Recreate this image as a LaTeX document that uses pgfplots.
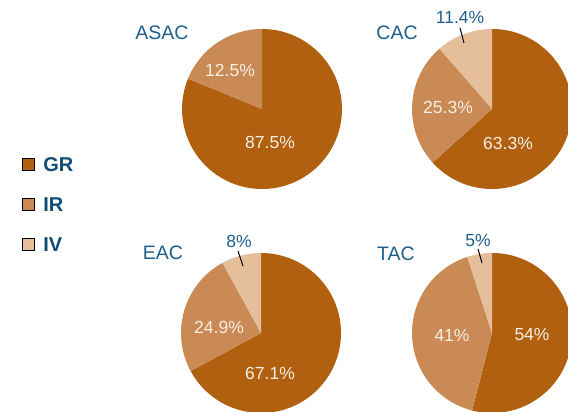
\documentclass[border=0pt]{standalone}
\usepackage{pgfplots}
\pgfplotsset{compat=1.18}
\usepackage{pgfplotstable}
\usepackage{fontspec}
\setmainfont{Liberation Sans}
\definecolor{pie0}{HTML}{B0600F}
\definecolor{pie1}{HTML}{C98A55}
\definecolor{pie2}{HTML}{E5BF9B}
\definecolor{ttl}{HTML}{1F5F8B}
\definecolor{leg}{HTML}{0F4C75}
\definecolor{inl}{HTML}{F8EFE4}

% slice sizes as drawn (percent of the full circle)
\pgfplotstableread{
cat value
GR 81.2
IR 18.8
}\asac
\pgfplotstableread{
cat value
GR 63.3
IR 25.3
IV 11.4
}\cac
\pgfplotstableread{
cat value
GR 67.1
IR 24.9
IV 8
}\eac
\pgfplotstableread{
cat value
GR 54
IR 41
IV 5
}\tac

\newcommand\drawpie[3]{%
  \pgfplotstablegetrowsof{#1}%
  \pgfmathtruncatemacro\lastrow{\pgfplotsretval-1}%
  \xdef\cumang{90}%
  \foreach \r in {0,...,\lastrow}{%
    \pgfplotstablegetelem{\r}{value}\of{#1}%
    \pgfmathsetmacro\endang{\cumang-3.6*\pgfplotsretval}%
    \fill[fill=pie\r] (axis cs:#2,#3) -- (axis cs:{#2+80*cos(\cumang)},{#3+80*sin(\cumang)}) arc[start angle=\cumang, end angle=\endang, radius=80bp] -- cycle;%
    \xdef\cumang{\endang}%
  }%
}

\begin{document}
\begin{tikzpicture}[x=1bp,y=1bp,
  ttl/.style={text=ttl, font=\fontsize{19.5bp}{19.5bp}\selectfont, inner sep=0pt},
  lab/.style={text=inl, font=\fontsize{17.5bp}{17.5bp}\selectfont, inner sep=0pt},
  olab/.style={text=ttl, font=\fontsize{17.5bp}{17.5bp}\selectfont, inner sep=0pt}]
\useasboundingbox (0,0) rectangle (568,411);
\begin{axis}[hide axis, scale only axis, width=568bp, height=411bp,
  xmin=0, xmax=568, ymin=0, ymax=411, at={(0,0)}, anchor=south west,
  legend cell align=left,
  legend image code/.code={\fill[#1] (0bp,-6bp) rectangle (12bp,6bp);},
  legend style={draw=none, fill=none, inner sep=0pt, outer sep=0pt,
    font=\bfseries\fontsize{20bp}{20bp}\selectfont, text=leg,
    at={(axis cs:22,253.5)}, anchor=north west,
    nodes={inner sep=0pt, text height=14.3bp, text depth=0pt},
    row sep=25.7bp, column sep=9bp},
]
\pgfplotsextra{\drawpie{\asac}{262}{302}}
\pgfplotsextra{\drawpie{\cac}{492}{302}}
\pgfplotsextra{\drawpie{\eac}{261}{78}}
\pgfplotsextra{\drawpie{\tac}{492}{78}}
\addlegendimage{fill=pie0}\addlegendentry{GR}
\addlegendimage{fill=pie1}\addlegendentry{IR}
\addlegendimage{fill=pie2}\addlegendentry{IV}
% titles
\node[ttl] at (axis cs:162,378) {ASAC};
\node[ttl] at (axis cs:397,378) {CAC};
\node[ttl] at (axis cs:163,158) {EAC};
\node[ttl] at (axis cs:396,157) {TAC};
% inner labels
\node[lab] at (axis cs:230,341) {12.5\%};
\node[lab] at (axis cs:270,269) {87.5\%};
\node[lab] at (axis cs:448,304) {25.3\%};
\node[lab] at (axis cs:508,268) {63.3\%};
\node[lab] at (axis cs:219,84) {24.9\%};
\node[lab] at (axis cs:270,38) {67.1\%};
\node[lab] at (axis cs:452,76) {41\%};
\node[lab] at (axis cs:532,76) {54\%};
% outer labels
\node[olab] at (axis cs:460,394) {11.4\%};
\draw[ttl, line width=1bp] (axis cs:460,383) -- (axis cs:464,368);
\node[olab] at (axis cs:239,170) {8\%};
\draw[ttl, line width=1bp] (axis cs:238,160) -- (axis cs:243,145);
\node[olab] at (axis cs:478,170) {5\%};
\draw[ttl, line width=1bp] (axis cs:478,162) -- (axis cs:482,148);
\end{axis}
\end{tikzpicture}
\end{document}
